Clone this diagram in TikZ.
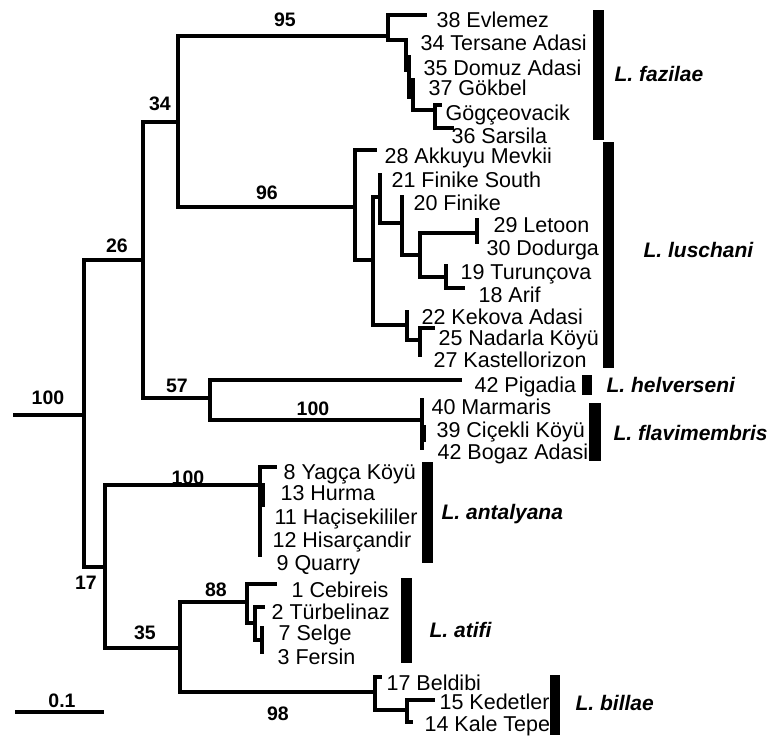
\documentclass[tikz,border=0pt]{standalone}
\usepackage{fontspec}
\setmainfont{Liberation Sans}
\begin{document}
\begin{tikzpicture}[x=1pt,y=-1pt, line width=3.2pt, line cap=rect, line join=miter,
  tip/.style={anchor=base west, inner sep=0pt, font=\fontsize{21.5}{24}\selectfont},
  boot/.style={anchor=base, inner sep=0pt, font=\bfseries\fontsize{19.5}{22}\selectfont},
  spec/.style={anchor=base west, inner sep=0pt, font=\bfseries\itshape\fontsize{21}{24}\selectfont},
  bar/.style={fill=black, draw=none}]
\useasboundingbox (0,0) rectangle (769,736);

% ---------- tree: backbone ----------
\coordinate (root) at (15,415);
\coordinate (nR) at (84,415);
\coordinate (n26) at (143,260);
\coordinate (n34) at (178,122);
\coordinate (n17) at (105,567);
\draw (root) -- (nR);
\draw (84,260) -- (84,567);
\draw (84,260) -- (143,260);
\draw (143,122) -- (143,398);
\draw (143,122) -- (178,122);
\draw (178,36) -- (178,207);

% fazilae clade
\draw (178,36) -- (388,36);
\draw (425,15) -- (388,15) -- (388,40) -- (406,40) -- (406,70) -- (409,70);
\draw (409,57) -- (409,97) -- (413,97);
\draw (413,80) -- (413,110) -- (435,110);
\draw (440,105) -- (435,105) -- (435,128) -- (452,128);

% luschani clade
\draw (178,207) -- (355,207);
\draw (375,150) -- (355,150) -- (355,260) -- (373,260);
\draw (380,197) -- (373,197) -- (373,325) -- (407,325);
\draw (380,175) -- (380,223) -- (402,223);
\draw (402,197) -- (402,255) -- (420,255);
\draw (477,233) -- (420,233) -- (420,277) -- (446,277);
\draw (477,220) -- (477,242);
\draw (446,266) -- (446,288) -- (463,288);
\draw (407,312) -- (407,340) -- (420,340);
\draw (433,328) -- (420,328) -- (420,355);

% helverseni / flavimembris
\draw (143,398) -- (210,398);
\draw (460,380) -- (210,380) -- (210,420) -- (422,420);
\draw (422,400) -- (422,448);
\draw (424,427) -- (424,440);

% lower part
\draw (84,567) -- (105,567);
\draw (105,485) -- (105,648);
\draw (105,485) -- (260,485);
\draw (275,467) -- (260,467) -- (260,555);
\draw (263,485) -- (263,505);
\draw (105,648) -- (180,648);
\draw (180,602) -- (180,692);
\draw (180,602) -- (247,602);
\draw (275,584) -- (247,584) -- (247,623) -- (255,623);
\draw (263,607) -- (255,607) -- (255,640) -- (262,640);
\draw (262,628) -- (262,652);
\draw (180,692) -- (375,692);
\draw (380,677) -- (375,677) -- (375,710) -- (407,710);
\draw (433,700) -- (407,700) -- (407,722) -- (411,722);

% scale bar
\coordinate (sb1) at (17,712);
\coordinate (sb2) at (102,712);
\draw (sb1) -- (sb2);
\node[boot] (sblab) at (62,707) {0.1};

% ---------- bootstrap values ----------
\node[boot] (b100r) at (48,404) {100};
\node[boot] (b26) at (117,252) {26};
\node[boot] (b34) at (160,110) {34};
\node[boot] (b95) at (285,27) {95};
\node[boot] (b96) at (267,199) {96};
\node[boot] (b57) at (177,392) {57};
\node[boot] (b100f) at (313,415) {100};
\node[boot] (b100a) at (188,484) {100};
\node[boot] (b17) at (86,589) {17};
\node[boot] (b35) at (145,639) {35};
\node[boot] (b88) at (216,596) {88};
\node[boot] (b98) at (278,720) {98};

% ---------- tip labels ----------
\node[tip] (t38) at (435,27.2) {38 Evlemez};
\node[tip] (t34) at (419,50.2) {34 Tersane Adasi};
\node[tip] (t35) at (422,75.2) {35 Domuz Adasi};
\node[tip] (t37) at (427,95.2) {37 Gökbel};
\node[tip] (tgo) at (444,120.2) {Gögçeovacik};
\node[tip] (t36) at (450,143.2) {36 Sarsila};

\node[tip] (t28) at (383,163.7) {28 Akkuyu Mevkii};
\node[tip] (t21) at (390,187.7) {21 Finike South};
\node[tip] (t20) at (412,210.7) {20 Finike};
\node[tip] (t29) at (492,232.7) {29 Letoon};
\node[tip] (t30) at (485,255.7) {30 Dodurga};
\node[tip] (t19) at (459,279.7) {19 Turunçova};
\node[tip] (t18) at (477,302.7) {18 Arif};
\node[tip] (t22) at (420,324.7) {22 Kekova Adasi};
\node[tip] (t25) at (437,345.7) {25 Nadarla Köyü};
\node[tip] (t27) at (432,367.7) {27 Kastellorizon};

\node[tip] (t42p) at (473,392.7) {42 Pigadia};
\node[tip] (t40) at (430,414.7) {40 Marmaris};
\node[tip] (t39) at (435,437.7) {39 Ciçekli Köyü};
\node[tip] (t42b) at (436,459.7) {42 Bogaz Adasi};

\node[tip] (t8) at (282,479.7) {8 Yagça Köyü};
\node[tip] (t13) at (279,500.7) {13 Hurma};
\node[tip] (t11) at (273,524.7) {11 Haçisekililer};
\node[tip] (t12) at (271,547.7) {12 Hisarçandir};
\node[tip] (t9) at (275,570.7) {9 Quarry};

\node[tip] (t1) at (290,597.7) {1 Cebireis};
\node[tip] (t2) at (270,619.7) {2 Türbelinaz};
\node[tip] (t7) at (277,640.7) {7 Selge};
\node[tip] (t3) at (276,664.7) {3 Fersin};
\node[tip] (t17) at (385,690.2) {17 Beldibi};
\node[tip] (t15) at (438,709) {15 Kedetler};
\node[tip] (t14) at (423,731.5) {14 Kale Tepe};

% ---------- species bars and labels ----------
\fill[bar] (593,10) rectangle (604,140);
\fill[bar] (603,142) rectangle (614,368);
\fill[bar] (582,375) rectangle (592,395);
\fill[bar] (589,403) rectangle (601,461);
\fill[bar] (422,462) rectangle (433,563);
\fill[bar] (401,578) rectangle (412,663);
\fill[bar] (550,675) rectangle (560,735);

\node[spec] (sfaz) at (613,81.5) {L. fazilae};
\node[spec] (slus) at (642,257.5) {L. luschani};
\node[spec] (shel) at (605,392.5) {L. helverseni};
\node[spec] (sfla) at (612,440.5) {L. flavimembris};
\node[spec] (sant) at (440,519.5) {L. antalyana};
\node[spec] (sati) at (428,637.5) {L. atifi};
\node[spec] (sbil) at (574,710.5) {L. billae};
\end{tikzpicture}
\end{document}
